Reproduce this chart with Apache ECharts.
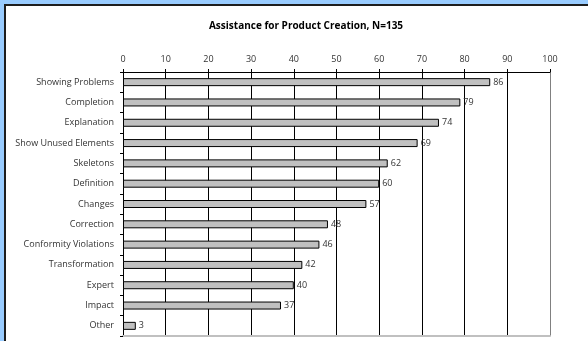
<!DOCTYPE html>
<html>
<head>
<meta charset="utf-8">
<script src="https://cdn.jsdelivr.net/npm/echarts@6/dist/echarts.min.js"></script>
<style>
  html, body { margin: 0; padding: 0; width: 588px; height: 341px; overflow: hidden; background: #99CCFF; }
  #frame { position: absolute; left: 4px; top: 4px; width: 590px; height: 345px; background: #ffffff;
           border-left: 2px solid #1e1e1e; border-top: 2px solid #1e1e1e; }
  #chart { position: absolute; left: 0; top: 0; width: 588px; height: 341px; }
</style>
</head>
<body>
<div id="frame"></div>
<div id="chart"></div>
<script>
// Types of assistance named by respondents (N=135)
const categories = [
  'Showing Problems', 'Completion', 'Explanation', 'Show Unused Elements',
  'Skeletons', 'Definition', 'Changes', 'Correction', 'Conformity Violations',
  'Transformation', 'Expert', 'Impact', 'Other'
];
const counts = [86, 79, 74, 69, 62, 60, 57, 48, 46, 42, 40, 37, 3];
const xTicks = [0, 10, 20, 30, 40, 50, 60, 70, 80, 90, 100];

const FONT = '"Open Sans", "Liberation Sans", sans-serif';
// grid lines are black, the closing line at 100 is grey
const splitColors = xTicks.map((v, i) => i === xTicks.length - 1 ? '#808080' : '#000000');

const chart = echarts.init(document.getElementById('chart'), null, { renderer: 'canvas' });
chart.setOption({
  backgroundColor: 'transparent',
  animation: false,
  title: {
    text: 'Assistance for Product Creation, N=135',
    left: 301, top: 16, textAlign: 'center',
    textStyle: { fontFamily: FONT, fontSize: 10, fontWeight: 'bold', color: '#000' }
  },
  grid: { left: 123, right: 38, top: 72, bottom: 5, containLabel: false },
  xAxis: [{
    type: 'value', position: 'top',
    min: xTicks[0], max: xTicks[xTicks.length - 1], interval: 10,
    axisLine: { show: true, lineStyle: { color: '#000', width: 1 } },
    axisTick: { show: true, inside: false, length: 3, lineStyle: { color: '#000' } },
    axisLabel: { color: '#333', fontFamily: FONT, fontSize: 9, margin: 8 },
    splitLine: { show: true, lineStyle: { color: splitColors, width: 1 } }
  }, {
    type: 'value', position: 'bottom',
    min: xTicks[0], max: xTicks[xTicks.length - 1], interval: 10,
    axisLine: { show: true, lineStyle: { color: '#c0c0c0', width: 2 } },
    axisTick: { show: false }, axisLabel: { show: false }, splitLine: { show: false }
  }],
  yAxis: {
    type: 'category', data: categories, inverse: true,
    axisLine: { show: true, lineStyle: { color: '#000', width: 1 } },
    axisTick: { show: true, inside: false, length: 3, lineStyle: { color: '#000' } },
    axisLabel: { color: '#333', fontFamily: FONT, fontSize: 9, margin: 9 },
    splitLine: { show: false }
  },
  series: [{
    type: 'bar', xAxisIndex: 0, data: counts, barWidth: 8,
    itemStyle: { color: '#C0C0C0', borderColor: '#000', borderWidth: 1 },
    label: { show: true, position: 'right', distance: 3, color: '#333', fontFamily: FONT, fontSize: 9 }
  }]
});
</script>
</body>
</html>
